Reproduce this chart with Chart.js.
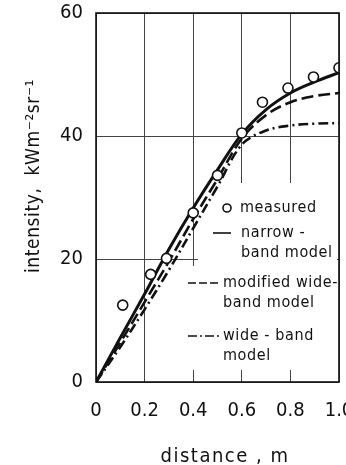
<!DOCTYPE html>
<html>
<head>
<meta charset="utf-8">
<script src="https://cdn.jsdelivr.net/npm/chart.js@4.4.0/dist/chart.umd.min.js"></script>
<style>
html,body{margin:0;padding:0;background:#fff;overflow:hidden;width:346px;height:465px;}
#wrap{width:360px;height:465px;}
</style>
</head>
<body>
<div id="wrap"><canvas id="c" width="360" height="465"></canvas></div>
<script>
// ---- data ----
const measuredX = [0.11, 0.225, 0.29, 0.40, 0.50, 0.60, 0.685, 0.79, 0.895, 1.0];
const measuredY = [12.5, 17.5, 20.1, 27.5, 33.6, 40.5, 45.5, 47.8, 49.6, 51.1];

const modelX = [0, 0.1, 0.2, 0.3, 0.4, 0.5, 0.6, 0.7, 0.8, 0.9, 1.0];
const narrowBand = [0, 7.2, 14.3, 21.6, 28.3, 34.5, 40.3, 44.3, 47.0, 48.8, 50.3];
const modifiedWideBand = [0, 6.4, 13.0, 19.6, 26.5, 33.0, 39.6, 43.4, 45.5, 46.5, 47.0];
const wideBand = [0, 5.7, 11.8, 18.2, 25.0, 31.8, 38.6, 40.9, 41.7, 42.0, 42.1];

const xTickLabels = ['0', '0.2', '0.4', '0.6', '0.8', '1.0'];
const yTickLabels = ['0', '20', '40', '60'];

const xTitle = 'distance , m';
const yTitle = 'intensity,  kWm\u207B\u00B2sr\u207B\u00B9';

const legendItems = [
  {kind: 'point', lines: ['measured']},
  {kind: 'solid', lines: ['narrow -', 'band model']},
  {kind: 'dashed', lines: ['modified wide-', 'band model']},
  {kind: 'dashdot', lines: ['wide - band', 'model']}
];

const toXY = (xs, ys) => xs.map((x, i) => ({x: x, y: ys[i]}));

const DASH = [12, 5];
const DASHDOT = [10, 4, 2, 4];
const tickFont = {family: '"DejaVu Sans Condensed", "DejaVu Sans", sans-serif', size: 20};
const textFamily = '"DejaVu Sans Condensed", "DejaVu Sans", sans-serif';

const decorPlugin = {
  id: 'decor',
  beforeDatasetsDraw(chart) {
    const {ctx, chartArea: a} = chart;
    ctx.save();
    ctx.fillStyle = '#fff';
    // legend panel hides grid lines behind it
    ctx.fillRect(a.left + 102, a.top + 170, a.right - a.left - 104, 187);
    ctx.fillRect(a.left + 92, a.top + 253, a.right - a.left - 94, 104);
    ctx.restore();
  },
  afterDatasetsDraw(chart) {
    const {ctx, chartArea: a} = chart;
    ctx.save();
    // frame
    ctx.strokeStyle = '#111';
    ctx.lineWidth = 1.6;
    ctx.strokeRect(a.left, a.top, a.right - a.left, a.bottom - a.top);

    // legend
    ctx.fillStyle = '#111';
    ctx.strokeStyle = '#111';
    ctx.textBaseline = 'middle';
    ctx.textAlign = 'left';
    ctx.font = '16px ' + textFamily;
    try { ctx.letterSpacing = '0.6px'; } catch (e) {}
    const L = a.left, T = a.top;
    const spec = [
      {sx: [L + 131, L + 131], y: T + 195, tx: L + 144},
      {sx: [L + 117, L + 135], y: T + 220, tx: L + 145},
      {sx: [L + 92, L + 124], y: T + 270, tx: L + 127},
      {sx: [L + 92, L + 124], y: T + 323, tx: L + 127}
    ];
    legendItems.forEach((it, i) => {
      const s = spec[i];
      if (it.kind === 'point') {
        ctx.beginPath();
        ctx.lineWidth = 1.6;
        ctx.arc(s.sx[0], s.y, 4, 0, Math.PI * 2);
        ctx.fillStyle = '#fff';
        ctx.fill();
        ctx.stroke();
        ctx.fillStyle = '#111';
      } else {
        ctx.beginPath();
        ctx.lineWidth = 1.6;
        ctx.setLineDash(it.kind === 'dashed' ? [8, 3] : it.kind === 'dashdot' ? [9, 3, 2, 3] : []);
        ctx.moveTo(s.sx[0], s.y);
        ctx.lineTo(s.sx[1], s.y);
        ctx.stroke();
        ctx.setLineDash([]);
      }
      it.lines.forEach((t, j) => ctx.fillText(t, s.tx, s.y + j * 19.5));
    });

    // axis titles
    ctx.font = '20px ' + textFamily;
    try { ctx.letterSpacing = '1.5px'; } catch (e) {}
    ctx.textAlign = 'center';
    ctx.fillText(xTitle, 225, 457);
    ctx.save();
    ctx.translate(34, 176);
    ctx.rotate(-Math.PI / 2);
    ctx.font = '19px ' + textFamily;
    try { ctx.letterSpacing = '0.6px'; } catch (e) {}
    ctx.fillText(yTitle, 0, 0);
    ctx.restore();
    ctx.restore();
  }
};

new Chart(document.getElementById('c'), {
  type: 'scatter',
  data: {
    datasets: [
      {
        label: 'measured',
        data: toXY(measuredX, measuredY),
        showLine: false,
        pointStyle: 'circle',
        pointRadius: 5,
        pointBackgroundColor: '#fff',
        pointBorderColor: '#111',
        pointBorderWidth: 1.6
      },
      {
        label: 'narrow-band model',
        data: toXY(modelX, narrowBand),
        showLine: true,
        borderColor: '#111',
        borderWidth: 3,
        pointRadius: 0,
        tension: 0.35
      },
      {
        label: 'modified wide-band model',
        data: toXY(modelX, modifiedWideBand),
        showLine: true,
        borderColor: '#111',
        borderWidth: 2.6,
        borderDash: DASH,
        pointRadius: 0,
        tension: 0.35
      },
      {
        label: 'wide-band model',
        data: toXY(modelX, wideBand),
        showLine: true,
        borderColor: '#111',
        borderWidth: 2.6,
        borderDash: DASHDOT,
        pointRadius: 0,
        tension: 0.35
      }
    ]
  },
  options: {
    responsive: false,
    animation: false,
    layout: {padding: {left: 0, right: 21, top: 13, bottom: 0}},
    plugins: {legend: {display: false}, tooltip: {enabled: false}},
    scales: {
      x: {
        type: 'linear',
        min: 0, max: 1,
        afterFit: s => { s.height = 83; s.paddingLeft = 0; s.paddingRight = 0; },
        afterBuildTicks: s => { s.ticks = xTickLabels.map(t => ({value: parseFloat(t)})); },
        ticks: {
          color: '#111',
          font: tickFont,
          padding: 17,
          maxRotation: 0,
          autoSkip: false,
          callback: (v, i) => xTickLabels[i]
        },
        grid: {color: '#444', lineWidth: 1, drawTicks: false},
        border: {display: false}
      },
      y: {
        type: 'linear',
        min: 0, max: 60,
        afterFit: s => { s.width = 96; s.paddingTop = 0; s.paddingBottom = 0; },
        afterBuildTicks: s => { s.ticks = yTickLabels.map(t => ({value: parseFloat(t)})); },
        ticks: {
          color: '#111',
          font: tickFont,
          padding: 13,
          callback: (v, i) => yTickLabels[i]
        },
        grid: {color: '#444', lineWidth: 1, drawTicks: false},
        border: {display: false}
      }
    }
  },
  plugins: [decorPlugin]
});
</script>
</body>
</html>
